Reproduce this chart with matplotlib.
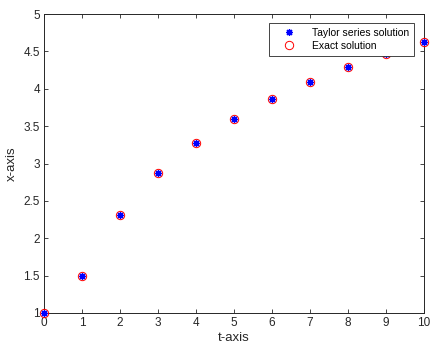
import matplotlib
matplotlib.use('Agg')
import matplotlib.pyplot as plt

plt.rcParams['font.family'] = ['Liberation Sans', 'DejaVu Sans']

t = [0, 1, 2, 3, 4, 5, 6, 7, 8, 9, 10]
x_taylor = [1.0, 1.5, 2.31, 2.87, 3.28, 3.60, 3.87, 4.09, 4.29, 4.46, 4.62]
x_exact = [1.0, 1.5, 2.31, 2.87, 3.28, 3.60, 3.87, 4.09, 4.29, 4.46, 4.62]

fig = plt.figure(figsize=(4.3, 3.52), dpi=100)
ax = fig.add_axes([0.1023, 0.111, 0.884, 0.849])

ax.plot(t, x_taylor, linestyle='none', marker=(8, 2, 0), markersize=5,
        markeredgecolor='blue', markeredgewidth=0.9, color='blue',
        label='Taylor series solution', clip_on=False, zorder=4)
ax.plot(t, x_exact, linestyle='none', marker='o', markersize=6,
        markerfacecolor='none', markeredgecolor='red', markeredgewidth=0.7,
        label='Exact solution', clip_on=False, zorder=3)

ax.set_xlim(0, 10)
ax.set_ylim(1, 5)
ax.set_xticks(range(0, 11))
ax.set_yticks([1, 1.5, 2, 2.5, 3, 3.5, 4, 4.5, 5])
ax.set_yticklabels(['1', '1.5', '2', '2.5', '3', '3.5', '4', '4.5', '5'])
ax.tick_params(direction='in', top=True, right=True, length=3, width=0.6,
               labelsize=8.5, colors='#262626', pad=3)
for s in ax.spines.values():
    s.set_color('#262626')
    s.set_linewidth(0.7)

ax.set_xlabel('t-axis', fontsize=9.5, color='#262626', labelpad=2)
ax.set_ylabel('x-axis', fontsize=9.5, color='#262626', labelpad=4)

leg = ax.legend(loc='upper right', bbox_to_anchor=(414 / 430, 1 - 23 / 352),
                bbox_transform=fig.transFigure, fontsize=7.5, frameon=True,
                fancybox=False, edgecolor='#262626', borderpad=0.45,
                handletextpad=0.85, labelspacing=0.3, handlelength=2.8,
                borderaxespad=0, markerscale=1.0, framealpha=1)
leg.get_frame().set_linewidth(0.6)
leg.set_zorder(5)

fig.savefig('out.png', dpi=100, facecolor='white')
